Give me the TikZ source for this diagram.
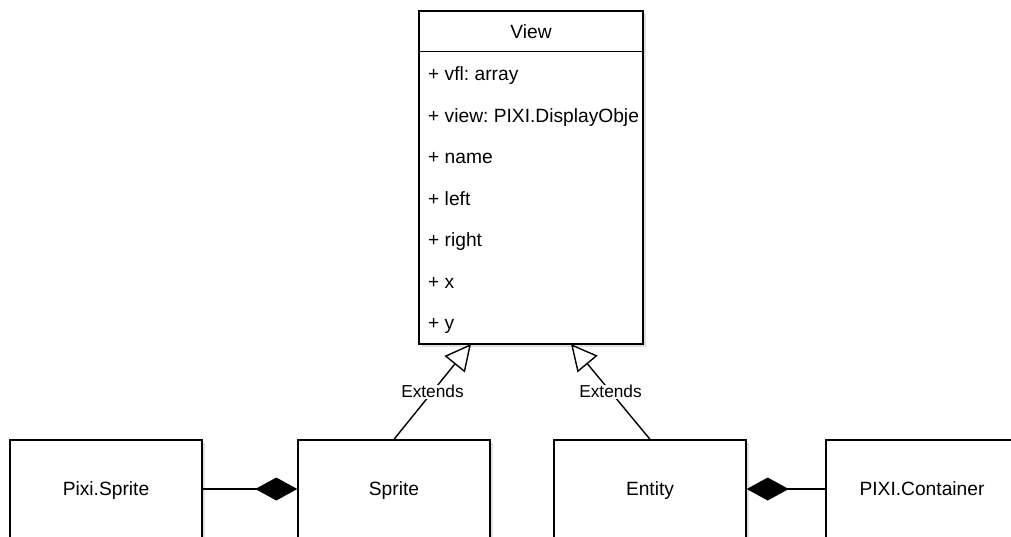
\documentclass[tikz,border=0pt]{standalone}
\usepackage{fontspec}
\setmainfont{Liberation Sans}
\usetikzlibrary{arrows.meta,shadows}
\frenchspacing

\tikzset{
  umlbox/.style={draw, line width=1.4pt, fill=white, inner sep=0pt,
    drop shadow={shadow xshift=3pt, shadow yshift=-3pt, opacity=.25}},
  attr/.style={anchor=west, inner sep=0pt},
  extends/.style={line width=1.4pt, -{Triangle[open, length=26pt, width=26pt]}},
  owns/.style={line width=1.4pt, -{Diamond[length=42pt, width=23pt]}},
  extlabel/.style={fill=white, inner sep=1pt, font=\fontsize{17.3}{20}\selectfont, text height=12pt}
}

\begin{document}
\begin{tikzpicture}[x=1pt, y=-1pt, font=\fontsize{19.2}{22}\selectfont,
  every node/.append style={text height=13.5pt, text depth=0pt}]
  \clip (0,0) rectangle (1011,536);
  \node[umlbox, minimum width=224pt, minimum height=333pt] (view) at (531,177.5) {};
  \draw[line width=1.4pt] ([yshift=-41pt]view.north west) -- ([yshift=-41pt]view.north east);
  \node (viewtitle) at (531,31.5) {View};
  \begin{scope}
    \clip (view.south west) rectangle (view.north east);
    \node[attr] (vfl) at (428,74) {+ vfl: array};
    \node[attr] (viewobj) at (428,115.5) {+ view: PIXI.DisplayObje};
    \node[attr] (name) at (428,157) {+ name};
    \node[attr] (left) at (428,198.5) {+ left};
    \node[attr] (right) at (428,240) {+ right};
    \node[attr] (x) at (428,281.5) {+ x};
    \node[attr] (y) at (428,323) {+ y};
  \end{scope}

  \node[umlbox, minimum width=192pt, minimum height=98pt] (pixisprite) at (106,489) {Pixi.Sprite};
  \node[umlbox, minimum width=192pt, minimum height=98pt] (sprite) at (394,489) {Sprite};
  \node[umlbox, minimum width=192pt, minimum height=98pt] (entity) at (650,489) {Entity};
  \node[umlbox, minimum width=192pt, minimum height=98pt] (container) at (922,489) {PIXI.Container};

  \coordinate (vleft) at (471,344);
  \coordinate (vright) at (571,344);
  \draw[extends] (sprite.north) -- node[extlabel] {Extends} (vleft);
  \draw[extends] (entity.north) -- node[extlabel] {Extends} (vright);
  \draw[owns] (pixisprite) -- (sprite);
  \draw[owns] (container) -- (entity);
\end{tikzpicture}
\end{document}
